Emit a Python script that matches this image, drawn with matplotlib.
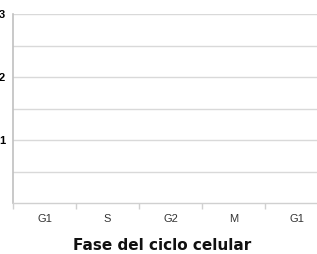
import matplotlib
matplotlib.use("Agg")
import matplotlib.pyplot as plt

categories = ["G1", "S", "G2", "M", "G1"]
y_ticks = [0, 1, 2, 3]
y_tick_labels = ["", "1", "2", "3"]
grid_levels = [0.5, 1, 1.5, 2, 2.5, 3]

W, H = 317, 254
fig = plt.figure(figsize=(W / 100, H / 100), dpi=100)
ax = fig.add_axes([13 / W, 1 - 203 / H, 315 / W, 189 / H])

ax.set_xlim(0, len(categories))
ax.set_ylim(0, 3)
for g in grid_levels:
    ax.axhline(g, color="#d9d9d9", lw=1, zorder=0)

ax.set_xticks([i + 0.5 for i in range(len(categories))])
ax.set_xticklabels(categories, fontsize=8, family="Liberation Sans", color="#333333")
ax.set_xticks(range(len(categories) + 1), minor=True)
ax.tick_params(axis="x", which="major", length=0, pad=8)
ax.tick_params(axis="x", which="minor", length=4, color="#d0d0d0", width=1)

ax.set_yticks(y_ticks)
ax.set_yticklabels(y_tick_labels, fontsize=8, family="Liberation Sans", fontweight="bold")
ax.tick_params(axis="y", length=0, pad=5.5)

for s in ["top", "right"]:
    ax.spines[s].set_visible(False)
ax.spines["left"].set_color("#c0c0c0")
ax.spines["bottom"].set_color("#d0d0d0")
ax.spines["left"].set_linewidth(1.2)
ax.spines["bottom"].set_linewidth(1)

fig.text(162 / W, 1 - 245 / H, "Fase del ciclo celular", ha="center", va="center",
         fontsize=11, fontweight="bold", family="DejaVu Sans", color="#111111")

fig.savefig("out.png", dpi=100)
